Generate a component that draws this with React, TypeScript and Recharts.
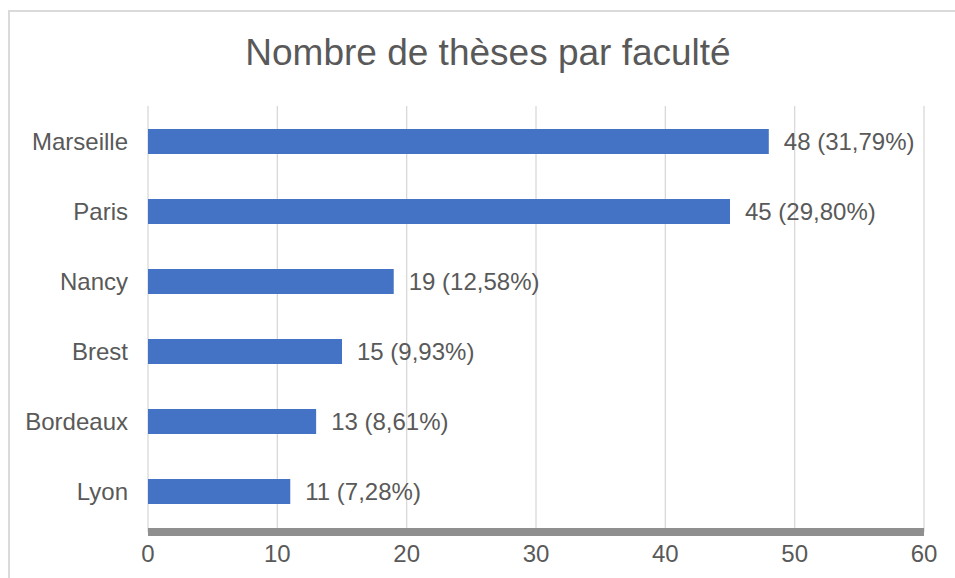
import React from "react";
import { BarChart, Bar, XAxis, YAxis, CartesianGrid, LabelList } from "recharts";

const faculties = ["Marseille", "Paris", "Nancy", "Brest", "Bordeaux", "Lyon"];
const theses = [48, 45, 19, 15, 13, 11];
const xTicks = [0, 10, 20, 30, 40, 50, 60];

const total = theses.reduce((a, b) => a + b, 0);
const data = faculties.map((name, i) => ({ name, value: theses[i] }));

const textColor = "#595959";
const font = '"Liberation Sans", Arial, sans-serif';

const formatLabel = (v: any) => {
  const n = Number(v);
  const pct = ((n / total) * 100).toFixed(2).replace(".", ",");
  return `${n} (${pct}%)`;
};

export default function App() {
  return (
    <div
      style={{
        position: "fixed",
        left: 0,
        top: 0,
        width: 955,
        height: 578,
        overflow: "hidden",
        background: "#fff",
        fontFamily: font,
      }}
    >
      <div
        style={{
          position: "absolute",
          left: 8,
          top: 10,
          width: 960,
          height: 600,
          border: "2px solid #dadada",
          boxSizing: "border-box",
        }}
      />
      <div
        style={{
          position: "absolute",
          left: 8,
          top: 34,
          width: 960,
          textAlign: "center",
          fontSize: 37,
          lineHeight: "37px",
          color: textColor,
        }}
      >
        Nombre de thèses par faculté
      </div>
      <div style={{ position: "absolute", left: 0, top: 0 }}>
        <BarChart
          width={955}
          height={578}
          data={data}
          layout="vertical"
          margin={{ top: 106, right: 31, bottom: 16, left: 8 }}
        >
          <CartesianGrid horizontal={false} stroke="#d9d9d9" strokeWidth={1.3} />
          <XAxis
            type="number"
            domain={[0, 60]}
            ticks={xTicks}
            interval={0}
            height={30}
            axisLine={{ stroke: "#8f8f8f", strokeWidth: 8 }}
            tickLine={false}
            tickSize={0}
            tickMargin={13}
            tick={{ fill: textColor, fontSize: 24, fontFamily: font }}
          />
          <YAxis
            type="category"
            dataKey="name"
            width={140}
            axisLine={false}
            tickLine={false}
            tickSize={0}
            tickMargin={20}
            padding={{ top: 0, bottom: 6 }}
            tick={{ fill: textColor, fontSize: 24, fontFamily: font }}
          />
          <Bar dataKey="value" fill="#4472C4" barSize={25} isAnimationActive={false}>
            <LabelList
              dataKey="value"
              position="right"
              offset={15}
              formatter={formatLabel}
              style={{ fill: textColor, fontSize: 24, fontFamily: font }}
            />
          </Bar>
        </BarChart>
      </div>
    </div>
  );
}
